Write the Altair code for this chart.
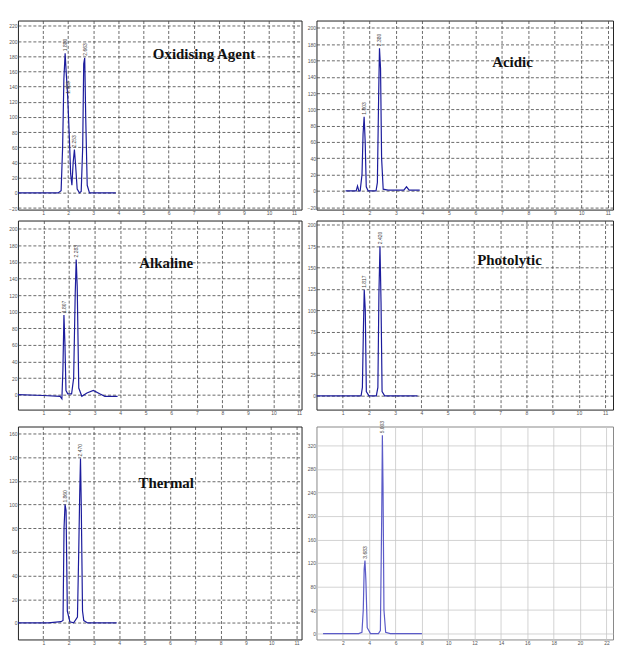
import altair as alt
import pandas as pd

# ---------------- data ----------------
# Oxidising Agent
ox_t = [0, 1.0, 1.6, 1.72, 1.78, 1.83, 1.88, 1.92, 1.98, 2.04, 2.1, 2.15, 2.2, 2.25, 2.3, 2.36, 2.45, 2.52, 2.58, 2.62, 2.66, 2.7, 2.76, 2.85, 3.2, 3.9]
ox_v = [0, 0, 0, 3, 60, 150, 184, 160, 128, 80, 25, 10, 40, 57, 35, 5, 0, 2, 60, 170, 178, 100, 10, 0, 0, 0]
ox_pk_t = [1.88, 1.98, 2.25, 2.66]
ox_pk_v = [184, 128, 57, 178]
ox_pk_s = ["1.880", "1.983", "2.253", "2.663"]

# Acidic
ac_t = [1.1, 1.5, 1.55, 1.6, 1.65, 1.72, 1.76, 1.8, 1.84, 1.88, 1.95, 2.1, 2.25, 2.3, 2.35, 2.38, 2.42, 2.46, 2.52, 2.7, 3.3, 3.4, 3.5, 3.9]
ac_v = [0, 0, 6, 0, 0, 20, 70, 91, 60, 5, 0, 0, 0, 10, 120, 175, 150, 40, 2, 1, 1, 5, 1, 1]
ac_pk_t = [1.8, 2.38]
ac_pk_v = [91, 175]
ac_pk_s = ["1.803", "2.380"]

# Alkaline
al_t = [0, 1.0, 1.65, 1.72, 1.76, 1.8, 1.84, 1.88, 1.95, 2.1, 2.18, 2.24, 2.28, 2.32, 2.38, 2.5, 2.7, 2.95, 3.2, 3.4, 3.9]
al_v = [0, -1, -2, -5, 30, 96, 60, 5, 1, 1, 20, 120, 163, 130, 8, -2, 2, 5, 1, -2, -2]
al_pk_t = [1.8, 2.28]
al_pk_v = [96, 163]
al_pk_s = ["1.807", "2.283"]

# Photolytic
ph_t = [0, 1.5, 1.7, 1.75, 1.79, 1.82, 1.86, 1.9, 2.0, 2.28, 2.34, 2.38, 2.42, 2.46, 2.5, 2.6, 3.85]
ph_v = [0, 0, 0, 10, 80, 124, 100, 5, 0, 0, 10, 120, 175, 110, 5, 0, 0]
ph_pk_t = [1.82, 2.42]
ph_pk_v = [124, 175]
ph_pk_s = ["1.817", "2.420"]

# Thermal
th_t = [0, 1.2, 1.7, 1.78, 1.82, 1.86, 1.9, 1.95, 2.05, 2.2, 2.35, 2.4, 2.44, 2.47, 2.5, 2.55, 2.6, 2.75, 3.9]
th_v = [0, 0, 1, 2, 80, 100, 95, 10, 1, 0, 5, 60, 110, 139, 100, 10, 2, 0, 0]
th_pk_t = [1.86, 2.47]
th_pk_v = [100, 139]
th_pk_s = ["1.860", "2.470"]

# Standard (no title)
st_t = [0.5, 3.2, 3.45, 3.55, 3.62, 3.68, 3.75, 3.85, 4.1, 4.7, 4.85, 4.95, 5.0, 5.05, 5.12, 5.25, 5.6, 8.0]
st_v = [0, 0, 2, 40, 110, 124, 90, 10, 0, 0, 5, 200, 337, 250, 40, 2, 0, 0]
st_pk_t = [3.68, 5.0]
st_pk_v = [124, 337]
st_pk_s = ["3.683", "5.003"]

ticks_1_11 = [1, 2, 3, 4, 5, 6, 7, 8, 9, 10, 11]


def panel(name, t, v, pk_t, pk_v, pk_s, xdom, ydom, yticks, xticks, w, h, tx, ty, std=False):
    if std:
        gkw = dict(gridColor="#c8c8c8", gridWidth=0.8)
        col = "#5b5bc8"
        vstroke = "#888"
    else:
        gkw = dict(gridColor="#444", gridDash=[3, 2], gridWidth=0.8)
        col = "#1c1c9c"
        vstroke = "#222"
    common = dict(title=None, grid=True, labelFontSize=5, labelColor="#555", tickSize=0,
                  labelPadding=1, domain=False, format="d", labelOverlap=False,
                  labelFlush=False, labelSeparation=0, **gkw)
    xax = alt.Axis(values=xticks, **common)
    yax = alt.Axis(values=yticks, **common)
    xs = alt.Scale(domain=xdom, nice=False, zero=False)
    ys = alt.Scale(domain=ydom, nice=False, zero=False)
    df = pd.DataFrame({"t": t, "v": v})
    line = alt.Chart(df).mark_line(color=col, strokeWidth=1.2, clip=True).encode(
        x=alt.X("t:Q", scale=xs, axis=xax), y=alt.Y("v:Q", scale=ys, axis=yax))
    pk = pd.DataFrame({"t": pk_t, "v": pk_v, "s": pk_s})
    labs = alt.Chart(pk).mark_text(angle=270, align="left", baseline="middle", dx=2,
                                   fontSize=5, color="#444").encode(
        x=alt.X("t:Q", scale=xs, axis=xax), y=alt.Y("v:Q", scale=ys, axis=yax), text="s:N")
    layers = [line, labs]
    if name:
        ttl = alt.Chart(pd.DataFrame({"s": [name]})).mark_text(
            font="Liberation Serif", fontWeight="bold", fontSize=15, color="#111").encode(
            text="s:N", x=alt.value(tx), y=alt.value(ty))
        layers.append(ttl)
    return alt.layer(*layers).properties(
        width=w, height=h, view=alt.ViewBackground(stroke=vstroke, strokeWidth=1))


p1 = panel("Oxidising Agent", ox_t, ox_v, ox_pk_t, ox_pk_v, ox_pk_s, [0, 11.3], [-22, 227],
           list(range(-20, 221, 20)), ticks_1_11, 285, 190, 187, 34)
p2 = panel("Acidic", ac_t, ac_v, ac_pk_t, ac_pk_v, ac_pk_s, [0, 11.2], [-23, 209],
           list(range(-20, 201, 20)), ticks_1_11, 298, 190, 197, 42)
p3 = panel("Alkaline", al_t, al_v, al_pk_t, al_pk_v, al_pk_s, [0, 11.1], [-18, 210],
           list(range(-20, 201, 20)), ticks_1_11, 285, 190, 149, 43)
p4 = panel("Photolytic", ph_t, ph_v, ph_pk_t, ph_pk_v, ph_pk_s, [0, 11.3], [-16, 205],
           list(range(0, 201, 25)), ticks_1_11, 298, 190, 194, 40)
p5 = panel("Thermal", th_t, th_v, th_pk_t, th_pk_v, th_pk_s, [0, 11.2], [-14, 166],
           list(range(0, 161, 20)), ticks_1_11, 285, 214, 149, 57)
p6 = panel(None, st_t, st_v, st_pk_t, st_pk_v, st_pk_s, [0, 22.5], [-10, 352],
           list(range(0, 321, 40)), list(range(2, 23, 2)), 298, 214, 0, 0, std=True)

chart = alt.vconcat(
    alt.hconcat(p1, p2, spacing=4),
    alt.hconcat(p3, p4, spacing=4),
    alt.hconcat(p5, p6, spacing=4),
    spacing=3,
).properties(
    padding={"left": 0, "top": 10, "right": 0, "bottom": 0}
).configure(background="white").configure_axis(labelOverlap=False)

chart.save("out.html", embed_options={"renderer": "svg", "actions": False})
